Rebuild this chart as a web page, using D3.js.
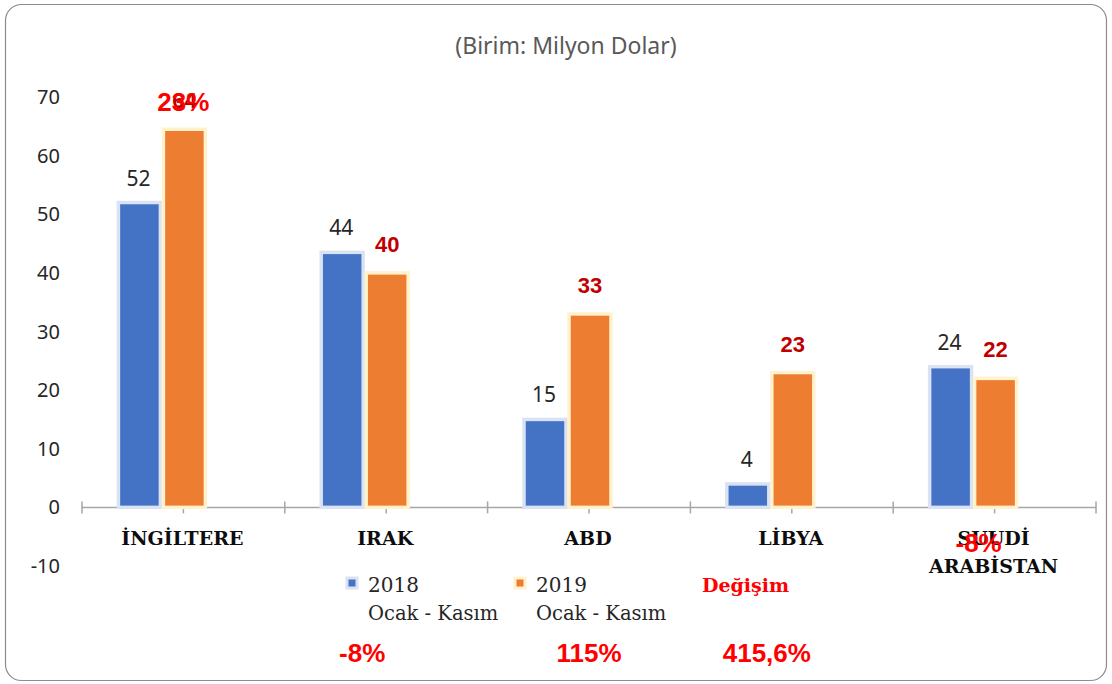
<!DOCTYPE html>
<meta charset="utf-8" />
<script src="https://d3js.org/d3.v7.min.js"></script>
<style>
  body { margin: 0; background: #fff; }
</style>
<div id="my_dataviz"></div>
<script>
  // data
  var countries = ["İNGİLTERE", "IRAK", "ABD", "LİBYA", "SUUDİ ARABİSTAN"];
  var values2018 = [52, 43.5, 15, 4, 24];
  var values2019 = [64.5, 40, 33, 23, 22];
  var labels2018 = ["52", "44", "15", "4", "24"];
  var labels2019 = ["64", "40", "33", "23", "22"];
  var changeLabels = ["23%", "-8%", "115%", "415,6%", "-8%"];
  var yTicks = [-10, 0, 10, 20, 30, 40, 50, 60, 70];

  // where the (hand-moved) change labels sit: y in axis units, dx in px
  var changeY = [67.6, -26.3, -26.3, -26.3, -7.6];
  var changeDx = [0, -24, 0, -25, -16];

  var W = 1112, H = 684;
  var svg = d3.select("#my_dataviz").append("svg")
    .attr("width", W).attr("height", H);

  // frame
  svg.append("rect")
    .attr("x", 5.5).attr("y", 4.5)
    .attr("width", 1101).attr("height", 676)
    .attr("rx", 16)
    .attr("fill", "#fff")
    .attr("stroke", "#8c8c8c")
    .attr("stroke-width", 1.2);

  svg.append("text")
    .attr("x", 566).attr("y", 54)
    .attr("text-anchor", "middle")
    .style("font-family", "Noto Sans")
    .style("font-size", "23px")
    .style("fill", "#595959")
    .text("(Birim: Milyon Dolar)");

  var x0 = d3.scaleBand().domain(countries).range([82, 1096])
    .paddingInner(0.364).paddingOuter(0.182);
  var x1 = d3.scaleBand().domain(["a", "b", "c"]).range([0, x0.bandwidth()]);
  var y = d3.scaleLinear().domain([-10, 70]).range([566, 97]);

  // y tick labels
  svg.append("g").selectAll("text")
    .data(yTicks).join("text")
    .attr("x", 60)
    .attr("y", (d) => y(d) + 7)
    .attr("text-anchor", "end")
    .style("font-family", "Noto Sans")
    .style("font-size", "20px")
    .style("fill", "#262626")
    .text((d) => d);

  // x axis at zero, ticks at each half band
  var step = x0.step();
  var axisG = svg.append("g");
  axisG.append("line")
    .attr("x1", 82).attr("x2", 1096)
    .attr("y1", y(0)).attr("y2", y(0))
    .attr("stroke", "#a6a6a6").attr("stroke-width", 1.5);
  var tickPos = d3.range(0, countries.length * 2 + 1).map((i) => 82 + i * step / 2);
  axisG.selectAll("line.tk").data(tickPos).join("line")
    .attr("class", "tk")
    .attr("x1", (d) => d).attr("x2", (d) => d)
    .attr("y1", y(0) - 6).attr("y2", y(0) + 6)
    .attr("stroke", "#a6a6a6").attr("stroke-width", 1.5);

  // bars
  var groups = svg.append("g").selectAll("g")
    .data(countries).join("g")
    .attr("transform", (d) => `translate(${x0(d)},0)`);

  groups.append("rect")
    .attr("x", x1("a") - 0.5)
    .attr("width", x1.bandwidth() - 1)
    .attr("y", (d, i) => y(values2018[i]))
    .attr("height", (d, i) => y(0) - y(values2018[i]))
    .attr("fill", "#4472c4")
    .attr("stroke", "#dae3f3")
    .attr("stroke-width", 3.5);

  groups.append("rect")
    .attr("x", x1("b") + 1.5)
    .attr("width", x1.bandwidth() - 1)
    .attr("y", (d, i) => y(values2019[i]))
    .attr("height", (d, i) => y(0) - y(values2019[i]))
    .attr("fill", "#ed7d31")
    .attr("stroke", "#fff2cc")
    .attr("stroke-width", 3.5);

  groups.append("text")
    .attr("x", x1("a") + x1.bandwidth() / 2 - 2)
    .attr("y", (d, i) => y(values2018[i]) - 17)
    .attr("text-anchor", "middle")
    .style("font-family", "Noto Sans")
    .style("font-size", "21px")
    .style("fill", "#262626")
    .text((d, i) => labels2018[i]);

  groups.append("text")
    .attr("x", x1("b") + x1.bandwidth() / 2 + 1)
    .attr("y", (d, i) => y(values2019[i]) - 21)
    .attr("text-anchor", "middle")
    .style("font-family", "Liberation Sans")
    .style("font-weight", "bold")
    .style("font-size", "22px")
    .style("fill", "#c00000")
    .text((d, i) => labels2019[i]);

  // category labels
  groups.append("text")
    .attr("x", x0.bandwidth() / 2 - 1)
    .attr("y", 545)
    .attr("text-anchor", "middle")
    .style("font-family", "DejaVu Serif")
    .style("font-weight", "bold")
    .style("font-size", "19px")
    .style("fill", "#0d0d0d")
    .each(function (d) {
      var words = d === "SUUDİ ARABİSTAN" ? ["SUUDİ", "ARABİSTAN"] : [d];
      var t = d3.select(this);
      words.forEach(function (w, k) {
        t.append("tspan")
          .attr("x", x0.bandwidth() / 2 - 1)
          .attr("dy", k === 0 ? 0 : 28)
          .text(w);
      });
    });

  // change labels
  groups.append("text")
    .attr("x", (d, i) => x0.bandwidth() / 2 + changeDx[i])
    .attr("y", (d, i) => y(changeY[i]))
    .attr("text-anchor", "middle")
    .style("font-family", "Liberation Sans")
    .style("font-weight", "bold")
    .style("font-size", "26px")
    .style("fill", "#ff0000")
    .text((d, i) => changeLabels[i]);

  // legend
  var legend = svg.append("g").attr("transform", "translate(347,578)");
  var legItems = [
    { name: "2018", sub: "Ocak - Kasım", fill: "#4472c4", halo: "#dae3f3", dx: 0 },
    { name: "2019", sub: "Ocak - Kasım", fill: "#ed7d31", halo: "#fff2cc", dx: 168 }
  ];
  legItems.forEach(function (it) {
    var g = legend.append("g").attr("transform", `translate(${it.dx},0)`);
    g.append("rect").attr("x", 0).attr("y", 0).attr("width", 10).attr("height", 10)
      .attr("fill", it.fill).attr("stroke", it.halo).attr("stroke-width", 3);
    g.append("text").attr("x", 21).attr("y", 14)
      .style("font-family", "DejaVu Serif").style("font-size", "20px")
      .style("fill", "#262626").text(it.name);
    g.append("text").attr("x", 21).attr("y", 42)
      .style("font-family", "DejaVu Serif").style("font-size", "19.5px")
      .style("fill", "#262626").text(it.sub);
  });
  legend.append("text").attr("x", 355).attr("y", 14)
    .style("font-family", "DejaVu Serif").style("font-weight", "bold")
    .style("font-size", "19px").style("fill", "#ff0000").text("Değişim");
</script>
